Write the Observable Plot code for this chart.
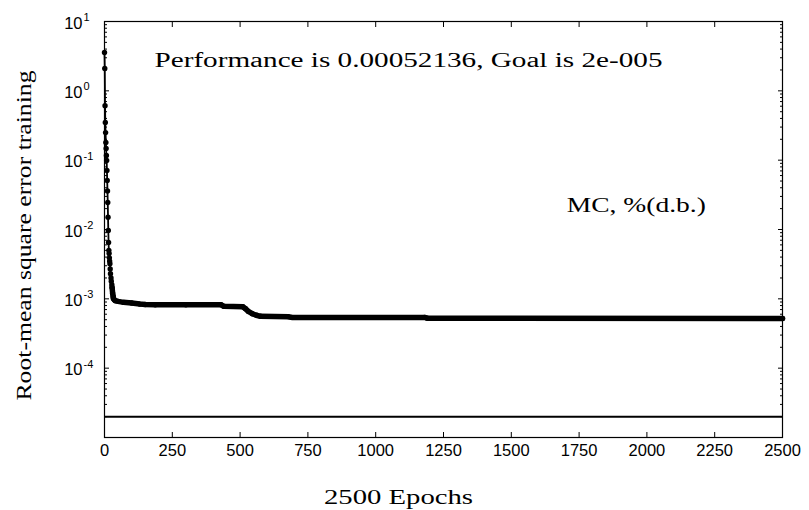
<!DOCTYPE html>
<html>
<head>
<meta charset="utf-8">
<script src="https://cdn.jsdelivr.net/npm/d3@7"></script>
<script src="https://cdn.jsdelivr.net/npm/@observablehq/plot@0.6"></script>
<style>
  html, body { margin: 0; padding: 0; background: #fff; }
  #chart { width: 809px; height: 510px; }
</style>
</head>
<body>
<div id="chart"></div>
<script>
// ---- data ----
const epochs = [0,1,2,3,4,5,6,7,8,9,10,11,12,13,14,15,16,17,18,19,20,21,22,24,25,27,28,30,32,33,36,40,50,70,100,130,150,187,300,430,440,510,520,530,545,560,575,680,690,1180,1190,2500];
const perf   = [3.57,2.1,0.61,0.35,0.25,0.18,0.147,0.117,0.099,0.071,0.051,0.036,0.0245,0.015,0.0097,0.0065,0.005,0.0045,0.0039,0.0035,0.0032,0.0027,0.0023,0.002,0.0018,0.0016,0.00146,0.0012,0.00108,0.00101,0.00097,0.00094,0.00092,0.00089,0.00087,0.00084,0.00083,0.00082,0.00082,0.00082,0.00078,0.00077,0.00072,0.00066,0.00061,0.00058,0.00056,0.00055,0.00054,0.00054,0.000525,0.00052136];
const goal = 2e-5;
const xTicks = [0,250,500,750,1000,1250,1500,1750,2000,2250,2500];
const yDecades = [-5,-4,-3,-2,-1,0,1];
const yMajorLabels = [1,0,-1,-2,-3,-4];
const titleText = "Performance is 0.00052136, Goal is 2e-005";
const noteText = "MC, %(d.b.)";
const xLabel = "2500 Epochs";
const yLabel = "Root-mean square error training";

const data = epochs.map((e, i) => ({epoch: e, perf: perf[i]}));
const denseStart = 28; // from here on, the dense markers merge into a thick band
const yMajor = yDecades.map(k => Math.pow(10, k));
const yMinor = [];
for (const k of yDecades.slice(0, -1)) for (let m = 2; m <= 9; m++) yMinor.push(m * Math.pow(10, k));

const sans = "'Liberation Sans', Arial, sans-serif";
const serif = "'Liberation Serif', 'Times New Roman', serif";

const chart = Plot.plot({
  width: 809,
  height: 510,
  marginLeft: 104,
  marginRight: 27,
  marginTop: 21,
  marginBottom: 73,
  style: {background: "#fff", color: "#000", overflow: "visible"},
  x: {domain: [0, 2500]},
  y: {type: "log", domain: [1e-5, 10]},
  marks: [
    Plot.frame({stroke: "#000", strokeWidth: 1.2}),
    // inward ticks on all sides
    Plot.axisX({anchor: "bottom", ticks: xTicks, tickSize: -5, tickFormat: () => "", label: null}),
    Plot.axisX({anchor: "top", ticks: xTicks, tickSize: -5, tickFormat: () => "", label: null}),
    Plot.axisX({anchor: "bottom", ticks: xTicks, tickSize: 0, tickPadding: 7, tickFormat: d => String(d),
      fontSize: 16.5, fontFamily: sans, label: null}),
    Plot.axisY({anchor: "left", ticks: yMajor, tickSize: -5, tickFormat: () => "", label: null}),
    Plot.axisY({anchor: "right", ticks: yMajor, tickSize: -5, tickFormat: () => "", label: null}),
    Plot.axisY({anchor: "left", ticks: yMinor, tickSize: -3, tickFormat: () => "", label: null}),
    Plot.axisY({anchor: "right", ticks: yMinor, tickSize: -3, tickFormat: () => "", label: null}),
    // y tick labels 10^k
    Plot.text(yMajorLabels, {y: k => Math.pow(10, k), frameAnchor: "left", text: () => "10",
      textAnchor: "end", dx: -22, dy: 2, fontSize: 16.5, fontFamily: sans, fill: "#000"}),
    Plot.text(yMajorLabels, {y: k => Math.pow(10, k), frameAnchor: "left", text: k => String(k),
      textAnchor: "start", dx: -21, dy: -4, fontSize: 11, fontFamily: sans, fill: "#000"}),
    // goal line
    Plot.ruleY([goal], {stroke: "#000", strokeWidth: 2}),
    // training curve
    Plot.line(data, {x: "epoch", y: "perf", stroke: "#000", strokeWidth: 1.8}),
    Plot.line(data, {filter: d => d.epoch >= denseStart, x: "epoch", y: "perf", stroke: "#000", strokeWidth: 5.5}),
    Plot.dot(data, {x: "epoch", y: "perf", r: 2.7, fill: "#000", stroke: "none"}),
    // annotations
    Plot.text([titleText], {x: 1121, y: 2.73, text: d => d, textAnchor: "middle", lineAnchor: "middle",
      fontSize: 20, fontFamily: serif, fill: "#000", className: "stretch-title"}),
    Plot.text([noteText], {x: 1961, y: 0.0222, text: d => d, textAnchor: "middle", lineAnchor: "middle",
      fontSize: 20, fontFamily: serif, fill: "#000", className: "stretch-note"}),
    Plot.text([xLabel], {frameAnchor: "bottom", text: d => d, textAnchor: "middle", lineAnchor: "bottom",
      dx: -45, dy: 66, fontSize: 20, fontFamily: serif, fill: "#000", className: "stretch-xlabel"}),
    Plot.text([yLabel], {frameAnchor: "left", text: d => d, textAnchor: "middle", lineAnchor: "middle",
      rotate: -90, dx: -80, dy: 6, fontSize: 20, fontFamily: serif, fill: "#000", className: "stretch-ylabel"})
  ]
});

document.getElementById("chart").appendChild(chart);
const svg = d3.select(chart);
const stretch = (cls, len) => svg.selectAll("." + cls + " text")
  .attr("textLength", len).attr("lengthAdjust", "spacingAndGlyphs");
stretch("stretch-title", 508);
stretch("stretch-note", 139);
stretch("stretch-xlabel", 149);
stretch("stretch-ylabel", 330);
</script>
</body>
</html>
